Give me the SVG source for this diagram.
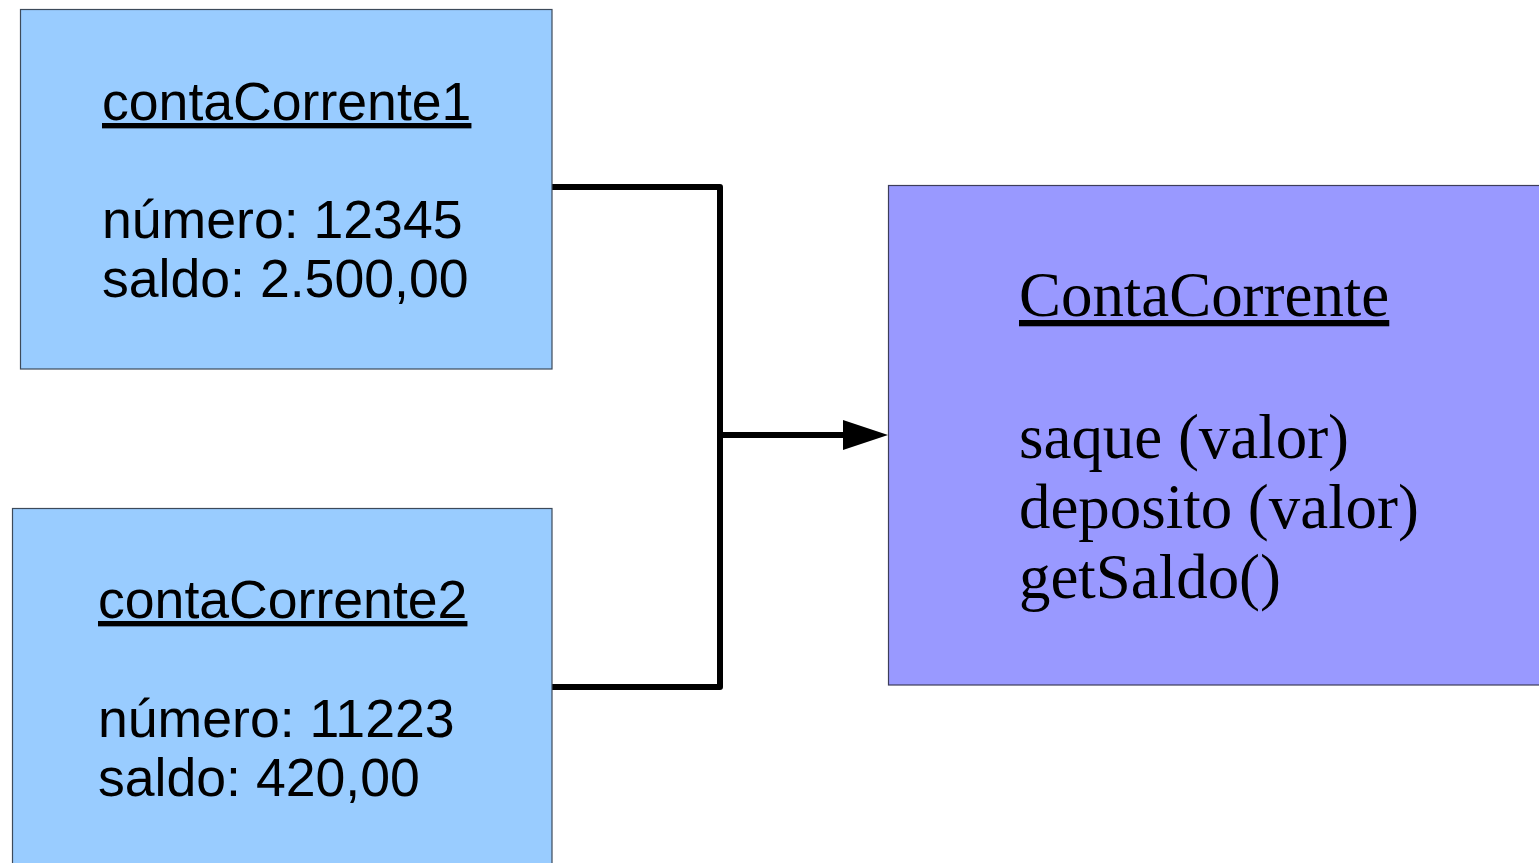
<svg xmlns="http://www.w3.org/2000/svg" width="1539" height="863" viewBox="0 0 1539 863">
<style>
.obj{fill:#99ccff;stroke:#3d4a5a;stroke-width:1.2}
.cls{fill:#9999ff;stroke:#3d3d5a;stroke-width:1.2}
.sans{font-family:"Liberation Sans",Arial,sans-serif;font-size:53.6px;fill:#000}
.serif{font-family:"Liberation Serif","Times New Roman",serif;font-size:62.9px;fill:#000}
.u{text-decoration:underline}
.conn{fill:none;stroke:#000;stroke-width:6;stroke-linejoin:round}
</style>
<rect width="1539" height="863" fill="#fff"/>
<g id="connectors">
<path class="conn" d="M552,187 H720 V687 H552"/>
<path class="conn" d="M720,435 H844"/>
<path d="M843,420 L888,435 L843,450 Z" fill="#000"/>
</g>
<g id="contaCorrente1">
<rect class="obj" x="20.5" y="9.5" width="531.5" height="359.5"/>
<text class="sans u" x="102" y="120">contaCorrente1</text>
<text class="sans" x="102" y="238">número: 12345</text>
<text class="sans" x="102" y="297">saldo: 2.500,00</text>
</g>
<g id="contaCorrente2">
<rect class="obj" x="12.5" y="508.5" width="539.5" height="370"/>
<text class="sans u" x="98" y="618">contaCorrente2</text>
<text class="sans" x="98" y="737">número: 11223</text>
<text class="sans" x="98" y="796">saldo: 420,00</text>
</g>
<g id="ContaCorrente">
<rect class="cls" x="888.5" y="185.5" width="660" height="499.5"/>
<text class="serif u" x="1019" y="316">ContaCorrente</text>
<text class="serif" x="1019" y="458">saque (valor)</text>
<text class="serif" x="1019" y="528">deposito (valor)</text>
<text class="serif" x="1019" y="598">getSaldo()</text>
</g>
</svg>
